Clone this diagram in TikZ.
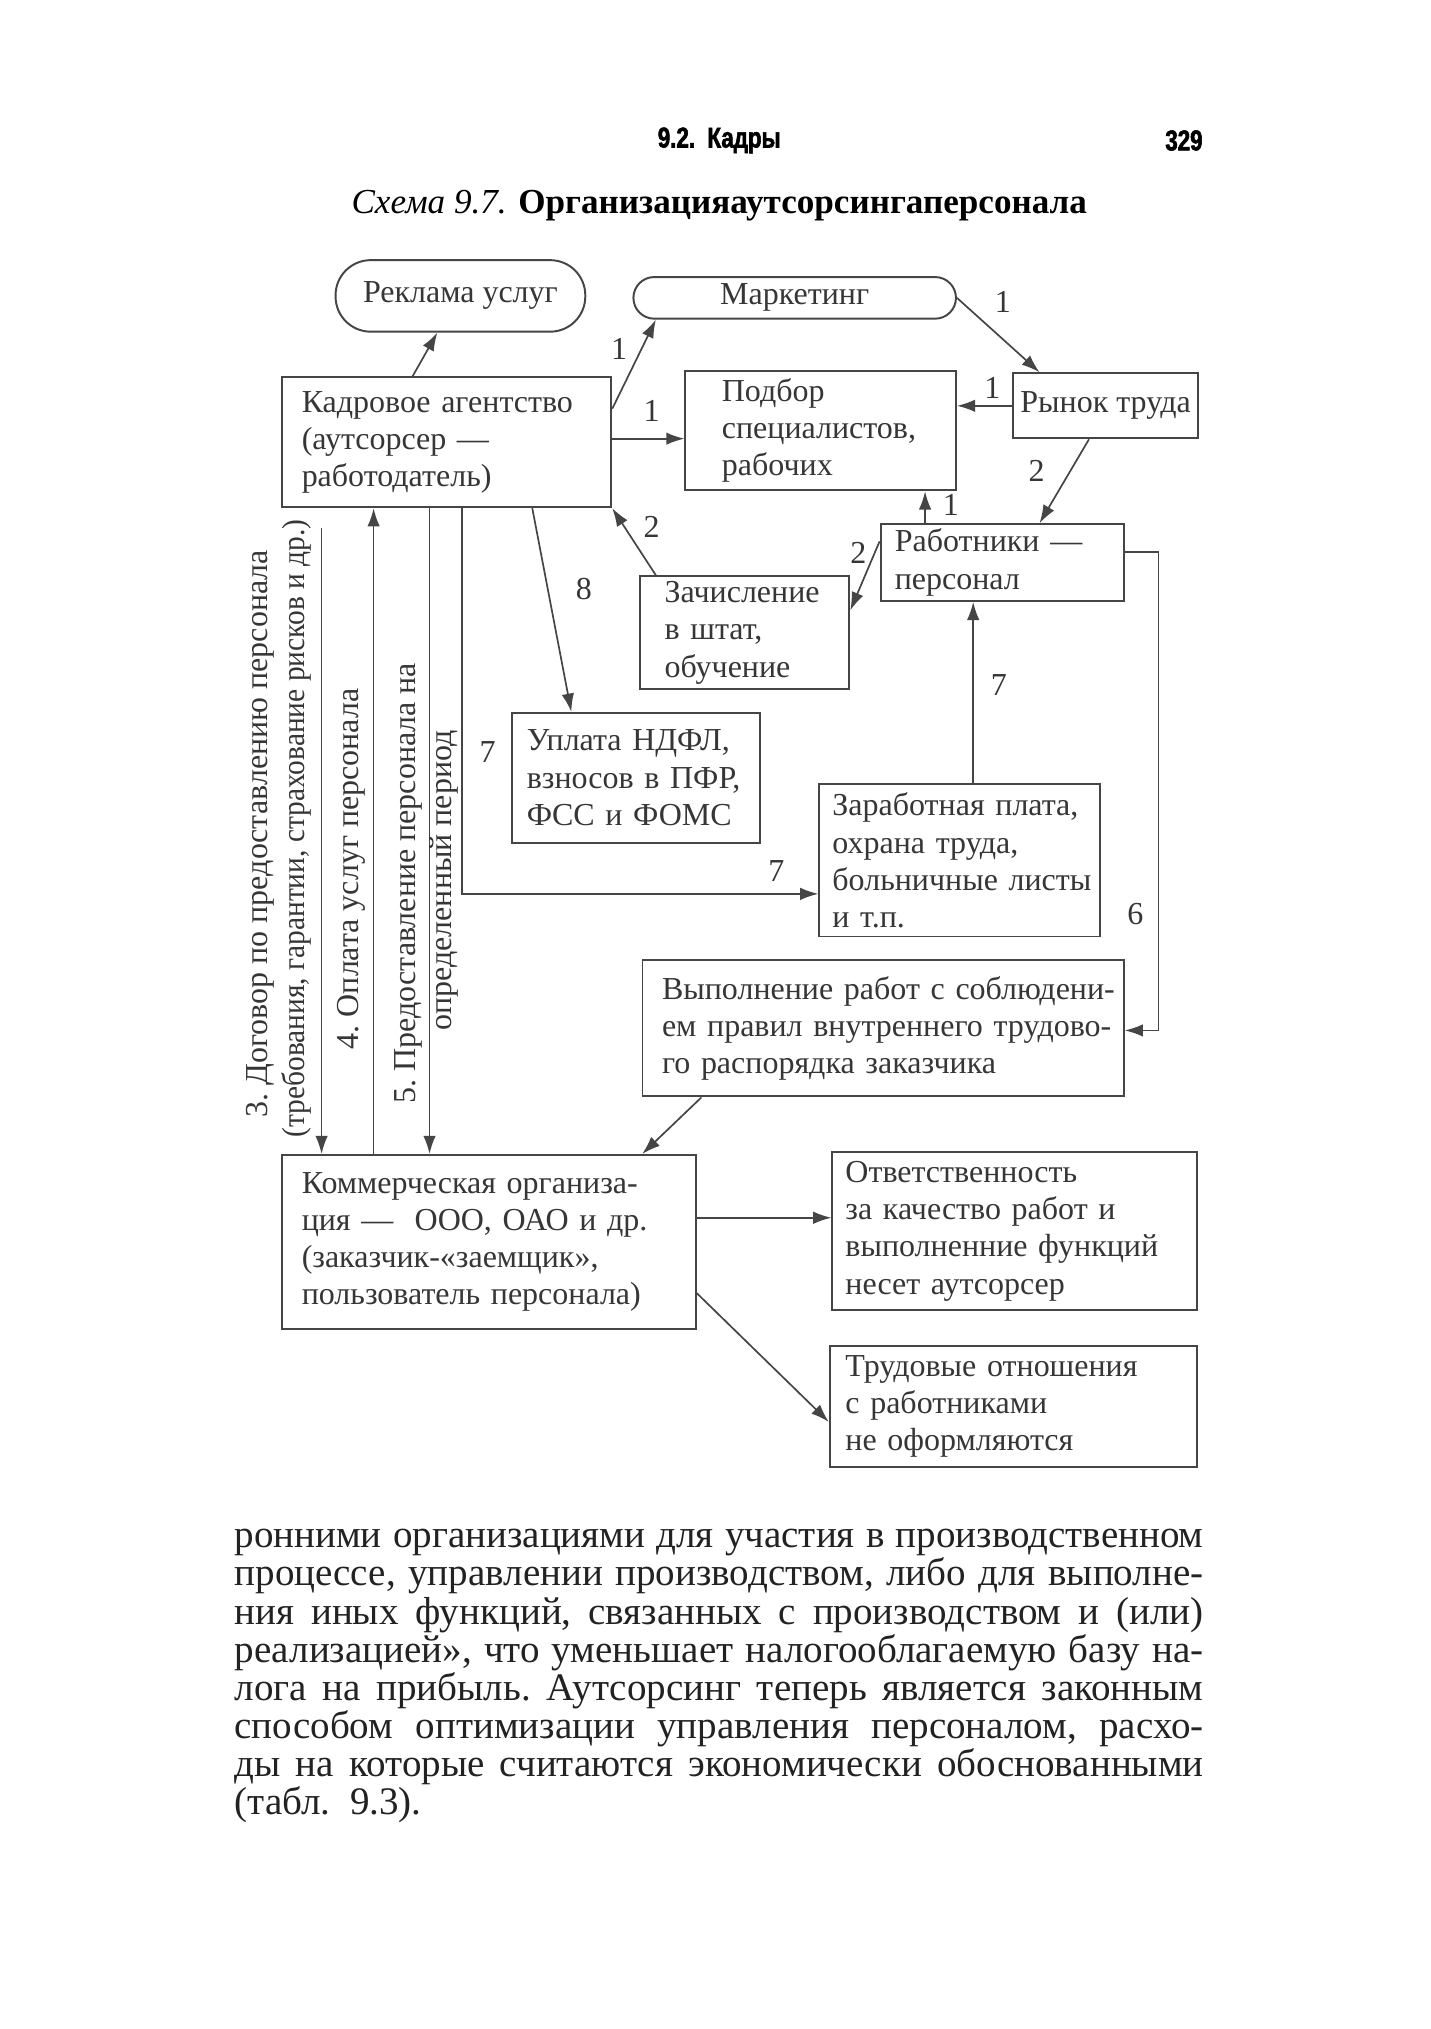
\documentclass[tikz,border=0pt]{standalone}
\usepackage{fontspec}
\usepackage{graphicx}
\setmainfont{Liberation Serif}
\newfontfamily\hdrfont[FakeStretch=0.78,BoldFeatures={FakeBold=2}]{Liberation Sans}
\usetikzlibrary{arrows.meta,calc}
\definecolor{ink}{HTML}{363636}
\definecolor{linec}{HTML}{454545}
\definecolor{bodyc}{HTML}{222222}
\newcommand\dgmfont{\fontsize{12.3}{14.3}\selectfont}
\newcommand\bodyfont{\fontsize{15}{15}\selectfont\frenchspacing}
\begin{document}
\begin{tikzpicture}[x=0.5pt,y=-0.5pt,
  bx/.style={draw=linec, line width=0.75pt, text=ink, font=\dgmfont, align=left, inner ysep=0pt},
  arr/.style={draw=linec, line width=0.65pt, -{Latex[length=7pt,width=4.8pt]}},
  lbl/.style={text=ink, font=\dgmfont, inner sep=0pt},
  rot/.style={lbl, rotate=90},
  body/.style={text=bodyc, font=\bodyfont, inner sep=0pt, anchor=base west}]
\fill[white] (0,0) rectangle (1100,1560);
\useasboundingbox (0,0) rectangle (1100,1560);

% header and title
\node[font=\hdrfont\bfseries\fontsize{11}{13}\selectfont, inner sep=0pt] (hdr) at (553,108) {9.2.\ \ Кадры};
\node[font=\hdrfont\bfseries\fontsize{11}{13}\selectfont, inner sep=0pt, anchor=east] (pg) at (925,108) {329};
\node[font=\fontsize{13.5}{16}\selectfont, inner sep=0pt] (title) at (553,158) {\textit{Схема 9.7.} \textbf{Организацияаутсорсингаперсонала}};

% boxes
\node[bx, align=center, rounded corners=13.5pt, minimum width=96pt, minimum height=27.5pt, inner xsep=0pt] (reklama) at (354,227.5) {Реклама~услуг};
\node[bx, align=center, rounded corners=8pt, minimum width=124pt, minimum height=16pt, inner xsep=0pt] (market) at (611,229) {Маркетинг};
\node[bx, minimum width=126.5pt, minimum height=50pt, inner xsep=7.5pt, text width=111.5pt] (kadr) at (343.5,340) {\mbox{Кадровое агентство}\\\mbox{(аутсорсер —}\\работодатель)};
\node[bx, minimum width=104pt, minimum height=46pt, inner xsep=14pt, text width=76pt] (podbor) at (631,331) {Подбор\\специалистов,\\рабочих};
\node[bx, align=center, minimum width=71pt, minimum height=25pt, inner xsep=0pt] (rynok) at (850,312) {Рынок~труда};
\node[bx, minimum width=93.5pt, minimum height=29.5pt, inner xsep=5.5pt, text width=82.5pt] (rab) at (770.5,432.5) {\mbox{Работники —}\\персонал};
\node[bx, minimum width=80.5pt, minimum height=43.5pt, inner xsep=9.5pt, text width=61.5pt] (zach) at (572.5,486.5) {Зачисление\\\mbox{в штат,}\\обучение};
\node[bx, minimum width=95pt, minimum height=50pt, inner xsep=5.5pt, text width=84pt] (upl) at (489,598) {\mbox{Уплата НДФЛ,}\\\mbox{взносов в ПФР,}\\\mbox{ФСС и ФОМС}};
\node[bx, minimum width=108pt, minimum height=58.5pt, inner xsep=5pt, text width=98pt] (zarp) at (738,661.5) {\mbox{Заработная плата,}\\\mbox{охрана труда,}\\\mbox{больничные листы}\\\mbox{и т.п.}};
\node[bx, minimum width=185pt, minimum height=52.5pt, inner xsep=7.5pt, text width=170pt] (vyp) at (679,790.5) {\mbox{Выполнение работ с соблюдени-}\\\mbox{ем правил внутреннего трудово-}\\\mbox{го распорядка заказчика}};
\node[bx, minimum width=159pt, minimum height=67pt, inner xsep=7.5pt, text width=144pt] (komm) at (376,955) {\mbox{Коммерческая организа-}\\\mbox{ция —\ \ ООО, ОАО и др.}\\\mbox{(заказчик-«заемщик»,}\\\mbox{пользователь персонала)}};
\node[bx, minimum width=140pt, minimum height=60.5pt, inner xsep=5pt, text width=130pt] (otv) at (780,946.5) {Ответственность\\\mbox{за качество работ и}\\\mbox{выполненние функций}\\\mbox{несет аутсорсер}};
\node[bx, minimum width=141pt, minimum height=46.5pt, inner xsep=6pt, text width=129pt] (trud) at (779,1081.5) {\mbox{Трудовые отношения}\\\mbox{с работниками}\\\mbox{не оформляются}};

% connectors
\draw[arr] ($(kadr.north west)+(101,0)$) -- ($(reklama.south west)+(79,0)$);
\draw[arr] ($(kadr.north east)+(0,25)$) -- ($(market.south west)+(18,0)$);
\draw[arr] (market.east) -- ($(rynok.north west)+(21,0)$);
\draw[arr] ($(kadr.north east)+(0,48)$) -- ($(podbor.north west)+(0,53)$);
\draw[arr] (rynok.west) -- (podbor.east |- rynok.west);
\draw[arr] ($(rynok.south west)+(59,0)$) -- ($(rab.north west)+(123,0)$);
\draw[arr] ($(rab.north west)+(35,0)$) -- ($(podbor.south west)+(185,0)$);
\draw[arr] ($(rab.north west)+(0,14)$) -- ($(zach.north east)+(0,27)$);
\draw[arr] ($(zach.north west)+(13,0)$) -- (kadr.south east);
\draw[arr] ($(kadr.south west)+(193,0)$) -- ($(upl.north west)+(46,0)$);
\draw[arr] ($(kadr.south west)+(139,0)$) |- ($(zarp.north west)+(0,85)$);
\draw[arr] ($(zarp.north west)+(119,0)$) -- ($(rab.south west)+(72,0)$);
\draw[arr] ($(rab.north east)+(0,22)$) -- ++(26,0) |- ($(vyp.north east)+(0,55)$);
\draw[arr] ($(vyp.south west)+(46,0)$) -- ($(komm.north east)+(-42,0)$);
\coordinate (c3) at ($(kadr.south west)+(31,15)$);
\draw[arr] (c3) -- ($(komm.north west)+(31,0)$);
\draw[arr] ($(komm.north west)+(71,0)$) -- ($(kadr.south west)+(71,0)$);
\draw[arr] ($(kadr.south west)+(114,0)$) -- ($(komm.north west)+(114,0)$);
\draw[arr] ($(komm.north east)+(0,49)$) -- ($(otv.north west)+(0,51)$);
\draw[arr] ($(komm.north east)+(0,107)$) -- ($(trud.north west)+(0,59)$);

% connector labels
\node[lbl] (n1) at (476,268) {1};
\node[lbl] (n2) at (771,232) {1};
\node[lbl] (n3) at (501,316) {1};
\node[lbl] (n4) at (763,298) {1};
\node[lbl] (n5) at (797,362) {2};
\node[lbl] (n6) at (731,388) {1};
\node[lbl] (n7) at (660,425) {2};
\node[lbl] (n8) at (501,405) {2};
\node[lbl] (n9) at (449,453) {8};
\node[lbl] (n10) at (375,578) {7};
\node[lbl] (n11) at (597,670) {7};
\node[lbl] (n12) at (768,527) {7};
\node[lbl] (n13) at (873,703) {6};

% rotated labels
\node[rot] (l3a) at (200,641) {3.~Договор по предоставлению персонала};
\node[rot] (l3b) at (228,637) {\scalebox{0.92}[1]{(требования, гарантии, страхование рисков и~др.)}};
\node[rot] (l4) at (270,668) {4.~Оплата услуг персонала};
\node[rot] (l5a) at (314,679) {5.~Предоставление персонала на};
\node[rot] (l5b) at (341,677) {определенный период};

% body text
\node[body] (b1) at (180,1190) {\makebox[372.5pt][s]{ронними организациями для участия в производственном}};
\node[body] (b2) at (180,1219.3) {\makebox[372.5pt][s]{процессе, управлении производством, либо для выполне-}};
\node[body] (b3) at (180,1248.6) {\makebox[372.5pt][s]{ния иных функций, связанных с производством и (или)}};
\node[body] (b4) at (180,1277.9) {\makebox[372.5pt][s]{реализацией», что уменьшает налогооблагаемую базу на-}};
\node[body] (b5) at (180,1307.2) {\makebox[372.5pt][s]{лога на прибыль. Аутсорсинг теперь является законным}};
\node[body] (b6) at (180,1336.5) {\makebox[372.5pt][s]{способом оптимизации управления персоналом, расхо-}};
\node[body] (b7) at (180,1365.8) {\makebox[372.5pt][s]{ды на которые считаются экономически обоснованными}};
\node[body] (b8) at (180,1395.1) {(табл.\ \ 9.3).};
\end{tikzpicture}
\end{document}
